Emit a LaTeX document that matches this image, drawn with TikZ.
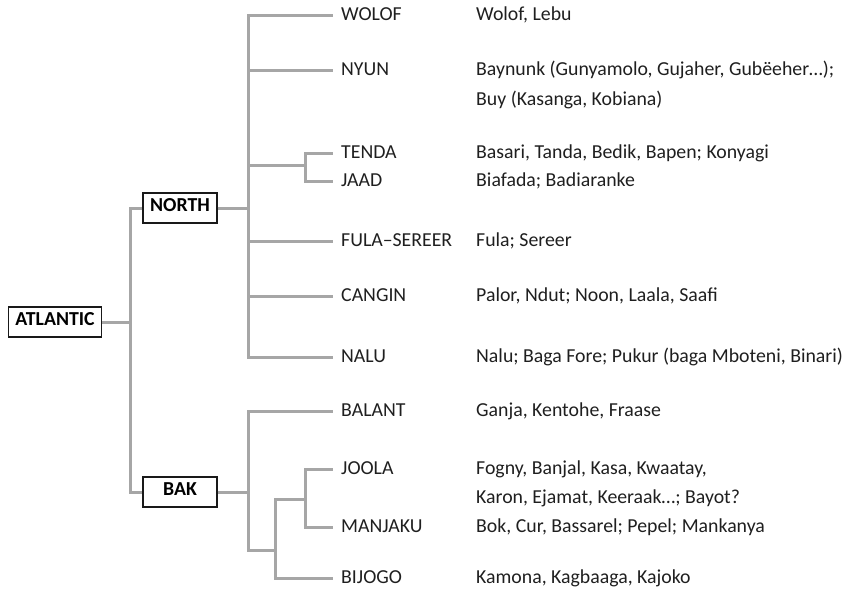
\documentclass[tikz,border=0pt]{standalone}
\usepackage{fontspec}
\setmainfont{Carlito}
\begin{document}
\begin{tikzpicture}[x=1pt,y=-1pt,
  br/.style={draw=black!35,line width=3pt},
  grp/.style={draw=black!90,line width=1.4pt,font=\fontsize{19.8}{23}\selectfont\bfseries,
    minimum width=74pt,minimum height=30pt,inner xsep=7pt,text height=0.644em,text depth=0pt},
  leaf/.style={anchor=west,inner xsep=8pt,inner ysep=0pt,font=\fontsize{19.8}{23}\selectfont,
    text height=0.644em,text depth=0pt,text=black!88,yshift=-2.5pt},
  desc/.style={anchor=west,inner xsep=0pt,inner ysep=0pt,font=\fontsize{19.8}{23}\selectfont,
    text height=0.644em,text depth=0pt,text=black!88,yshift=-2.5pt}]
\useasboundingbox (0,0) rectangle (848,589);
% group boxes
\node[grp] (atl) at (55,322) {ATLANTIC};
\node[grp] (north) at (180,208) {NORTH};
\node[grp] (bak) at (180,492) {BAK};
% junctions
\coordinate (r) at (130,322);
\coordinate (n) at (248,208);
\coordinate (td) at (305,165);
\coordinate (b) at (248,492);
\coordinate (b2) at (275,550);
\coordinate (b3) at (305,499);
% leaves
\node[leaf] (wolof) at (333,15) {WOLOF};
\node[leaf] (nyun) at (333,70) {NYUN};
\node[leaf] (tenda) at (333,153) {TENDA};
\node[leaf] (jaad) at (333,181) {JAAD};
\node[leaf] (fula) at (333,241) {FULA–SEREER};
\node[leaf] (cangin) at (333,296) {CANGIN};
\node[leaf] (nalu) at (333,357) {NALU};
\node[leaf] (balant) at (333,411) {BALANT};
\node[leaf] (joola) at (333,469) {JOOLA};
\node[leaf] (manjaku) at (333,527) {MANJAKU};
\node[leaf] (bijogo) at (333,578) {BIJOGO};
% descriptions
\node[desc] (d1) at (476,15) {Wolof, Lebu};
\node[desc] (d2a) at (476,70) {Baynunk (Gunyamolo, Gujaher, Gubëeher…);};
\node[desc] (d2b) at (476,100) {Buy (Kasanga, Kobiana)};
\node[desc] (d3) at (476,153) {Basari, Tanda, Bedik, Bapen; Konyagi};
\node[desc] (d4) at (476,181) {Biafada; Badiaranke};
\node[desc] (d5) at (476,241) {Fula; Sereer};
\node[desc] (d6) at (476,296) {Palor, Ndut; Noon, Laala, Saafi};
\node[desc] (d7) at (476,357) {Nalu; Baga Fore; Pukur (baga Mboteni, Binari)};
\node[desc] (d8) at (476,411) {Ganja, Kentohe, Fraase};
\node[desc] (d9a) at (476,469) {Fogny, Banjal, Kasa, Kwaatay,};
\node[desc] (d9b) at (476,498) {Karon, Ejamat, Keeraak…; Bayot?};
\node[desc] (d10) at (476,527) {Bok, Cur, Bassarel; Pepel; Mankanya};
\node[desc] (d11) at (476,578) {Kamona, Kagbaaga, Kajoko};
% connectors
\draw[br] (atl) -- (r);
\draw[br] (north) -| (r) |- (bak);
\draw[br] (north) -- (n);
\draw[br] (n) |- (wolof.west |- 0,15);
\draw[br] (n) |- (nyun.west |- 0,70);
\draw[br] (n) |- (td);
\draw[br] (td) |- (tenda.west |- 0,153);
\draw[br] (td) |- (jaad.west |- 0,181);
\draw[br] (n) |- (fula.west |- 0,241);
\draw[br] (n) |- (cangin.west |- 0,296);
\draw[br] (n) |- (nalu.west |- 0,357);
\draw[br] (bak) -- (b);
\draw[br] (b) |- (balant.west |- 0,411);
\draw[br] (b) |- (b2);
\draw[br] (b2) |- (b3);
\draw[br] (b2) |- (bijogo.west |- 0,578);
\draw[br] (b3) |- (joola.west |- 0,469);
\draw[br] (b3) |- (manjaku.west |- 0,527);
\end{tikzpicture}
\end{document}
